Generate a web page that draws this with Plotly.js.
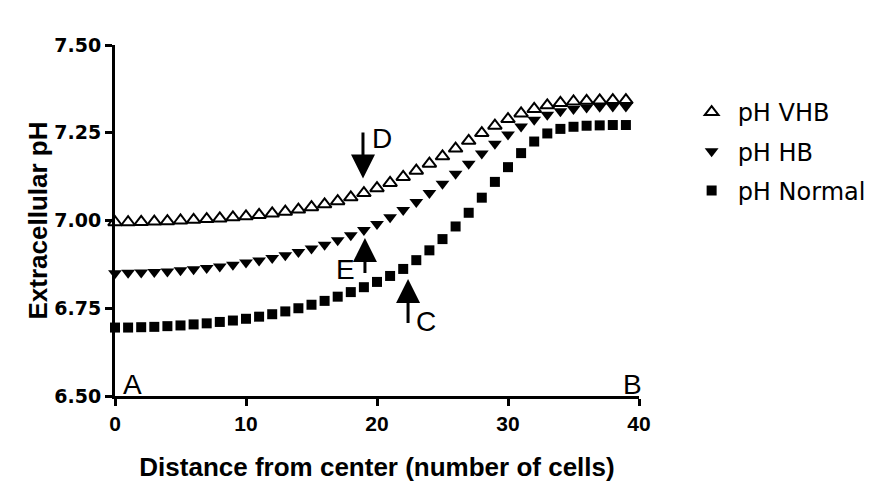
<!DOCTYPE html>
<html><head><meta charset="utf-8">
<script src="https://cdn.plot.ly/plotly-3.0.1.min.js"></script>
<style>body{margin:0;background:#fff}#chart{width:872px;height:488px}</style>
</head><body><div id="chart"></div>
<script>
const distance = [0,1,2,3,4,5,6,7,8,9,10,11,12,13,14,15,16,17,18,19,20,21,22,23,24,25,26,27,28,29,30,31,32,33,34,35,36,37,38,39];
const phVHB = [6.995,6.995,6.996,6.997,6.998,7.000,7.002,7.004,7.006,7.009,7.012,7.016,7.020,7.025,7.031,7.038,7.046,7.055,7.066,7.078,7.092,7.107,7.124,7.142,7.162,7.183,7.205,7.227,7.249,7.270,7.289,7.305,7.318,7.328,7.335,7.339,7.341,7.342,7.343,7.343];
const phHB = [6.850,6.851,6.852,6.853,6.855,6.858,6.861,6.865,6.869,6.874,6.880,6.886,6.893,6.901,6.910,6.920,6.931,6.944,6.958,6.973,6.990,7.009,7.030,7.053,7.078,7.105,7.133,7.162,7.191,7.219,7.245,7.268,7.287,7.301,7.311,7.318,7.322,7.324,7.325,7.325];
const phNormal = [6.695,6.695,6.696,6.697,6.699,6.701,6.704,6.707,6.711,6.715,6.720,6.726,6.733,6.741,6.750,6.760,6.771,6.783,6.796,6.810,6.825,6.842,6.862,6.887,6.915,6.947,6.983,7.022,7.065,7.110,7.152,7.192,7.225,7.248,7.261,7.267,7.270,7.271,7.272,7.272];
const seriesNames = ['pH VHB','pH HB','pH Normal'];
const xTicks = [0,10,20,30,40];
const yTicks = [6.5,6.75,7.0,7.25,7.5];
const yTickText = ['6.50','6.75','7.00','7.25','7.50'];

const F = 'Arial, "Liberation Sans", sans-serif';
const FD = '"DejaVu Sans", sans-serif';
const traces = [
  {x: distance, y: phVHB, name: seriesNames[0], legendgroup:'a', mode:'markers', cliponaxis:false,
   marker:{symbol:'triangle-up-open', size:12, color:'#000', line:{width:2, color:'#000'}}},
  {x: distance, y: phHB, name: seriesNames[1], legendgroup:'b', mode:'markers', cliponaxis:false,
   marker:{symbol:'triangle-down', size:12, color:'#000'}},
  {x: distance, y: phNormal, name: seriesNames[2], legendgroup:'c', mode:'markers', cliponaxis:false,
   marker:{symbol:'square', size:10, color:'#000'}}
];
const arrowStyle = {showarrow:true, arrowhead:2, arrowsize:1.6, arrowwidth:3, arrowcolor:'#000', axref:'pixel', ayref:'pixel', xref:'x', yref:'y'};
const label = (t, x, y) => ({text:t, x:x, y:y, xref:'x', yref:'y', showarrow:false, font:{family:F, size:28, color:'#000'}});
const layout = {
  width:872, height:488,
  margin:{l:115, r:233, t:45, b:92, autoexpand:false},
  paper_bgcolor:'#fff', plot_bgcolor:'#fff',
  showlegend:true,
  legend:{x:1.089, xanchor:'left', y:0.872, yanchor:'top', font:{family:FD, size:24, color:'#000'}, tracegroupgap:5, itemwidth:42},
  xaxis:{range:[0,40], tickvals:xTicks, ticktext:xTicks.map(String), showgrid:false, zeroline:false,
    showline:true, linecolor:'#000', linewidth:3, ticks:'outside', ticklen:7, tickwidth:3, tickcolor:'#000',
    tickfont:{family:F, size:21, color:'#000', weight:'bold'},
    title:{text:'Distance from center (number of cells)', font:{family:F, size:26, color:'#000', weight:'bold'}, standoff:24}},
  yaxis:{range:[6.5,7.5], tickvals:yTicks, ticktext:yTickText, showgrid:false, zeroline:false,
    showline:true, linecolor:'#000', linewidth:3, ticks:'outside', ticklen:7, tickwidth:3, tickcolor:'#000',
    tickfont:{family:FD, size:19, color:'#000', weight:'bold'},
    title:{text:'Extracellular pH', font:{family:F, size:26, color:'#000', weight:'bold'}, standoff:0}},
  annotations:[
    Object.assign({x:18.93, y:7.12, ax:0, ay:-56}, arrowStyle),
    Object.assign({x:19.08, y:6.95, ax:0, ay:45}, arrowStyle),
    Object.assign({x:22.37, y:6.833, ax:0, ay:54}, arrowStyle),
    label('D', 20.38, 7.235),
    label('E', 17.56, 6.859),
    label('C', 23.74, 6.711),
    label('A', 1.37, 6.534),
    label('B', 39.54, 6.534)
  ]
};
Plotly.newPlot('chart', traces, layout, {displayModeBar:false, staticPlot:true});
</script></body></html>
